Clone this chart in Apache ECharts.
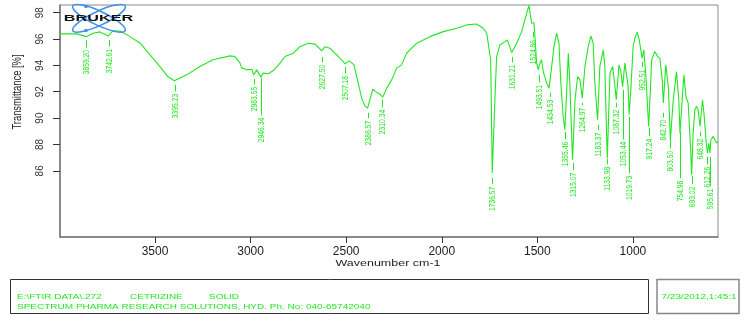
<!DOCTYPE html>
<html><head><meta charset="utf-8">
<script src="https://cdn.jsdelivr.net/npm/echarts@6/dist/echarts.min.js"></script>
<style>html,body{margin:0;padding:0;background:#fff}#c{width:747px;height:322px}</style>
</head><body><div id="c"></div>
<script>
const wavenumber = [3997,3908,3860,3824,3788,3744,3720,3683,3631,3579,
 3526,3474,3432,3399,3334,3265,3197,3108,3082,3056,
 3047,3020,2994,2984,2968,2946,2934,2907,2881,2846,
 2820,2777,2742,2698,2663,2641,2628,2611,2585,2550,
 2515,2506,2484,2459,2437,2419,2402,2388,2376,2361,
 2346,2332,2320,2309,2288,2262,2236,2210,2184,2131,
 2062,1992,1922,1870,1818,1783,1765,1757,1744,1736,
 1722,1713,1696,1670,1657,1634,1608,1582,1556,1544,
 1530,1518,1513,1504,1495,1490,1478,1469,1451,1439,
 1425,1413,1399,1387,1377,1365,1356,1347,1338,1330,
 1316,1303,1289,1277,1265,1251,1234,1220,1208,1199,
 1185,1173,1155,1147,1138,1134,1120,1106,1094,1087,
 1073,1063,1054,1042,1033,1025,1020,1011,999,990,
 978,967,952,943,932,918,911,902,885,871,
 859,847,841,828,815,804,789,772,760,754,
 740,733,723,711,698,693,685,676,667,659,
 649,636,627,615,610,603,597,592,580,571,
 562,555];
const transmittance = [96.39,96.39,96.18,96.44,96.54,96.23,96.61,96.61,96.18,95.70,
 94.80,93.91,93.13,92.83,93.28,93.91,94.42,94.72,94.67,94.19,
 93.81,93.66,93.71,93.28,93.66,93.11,93.41,93.36,93.61,94.17,
 94.67,94.92,95.42,95.68,95.61,95.30,95.10,95.42,95.30,94.80,
 94.29,94.11,94.34,94.04,92.65,91.51,90.93,90.76,91.39,92.20,
 92.01,91.89,91.77,91.59,92.27,92.90,93.79,94.04,94.92,95.68,
 96.18,96.56,96.82,97.07,97.14,96.82,96.44,96.31,94.42,85.83,
 91.39,94.67,95.55,95.80,95.93,94.97,95.68,96.56,97.95,98.55,
 97.20,97.24,96.31,94.17,93.66,94.04,94.42,93.53,92.65,92.27,
 93.91,95.42,96.44,95.68,92.65,90.12,89.11,91.89,94.92,92.65,
 86.84,91.39,93.15,92.90,91.51,93.91,95.42,96.23,95.68,92.65,
 89.87,93.91,95.17,93.91,88.86,86.97,93.41,93.91,92.39,91.39,
 94.04,93.53,92.39,94.17,94.29,92.39,90.25,92.14,95.42,96.06,
 96.52,95.93,94.55,95.17,93.15,89.36,91.39,94.42,95.05,94.67,
 94.55,92.90,91.14,94.04,92.39,88.36,91.39,93.53,91.39,88.86,
 91.89,93.28,91.64,91.14,87.60,85.70,88.86,90.63,90.88,90.63,
 89.36,91.39,90.12,87.85,87.35,88.11,87.35,88.36,88.61,88.73,
 88.11,88.23];
const peakLabels = ['3859.20','3742.61','3395.23','2983.55','2946.34','2627.50','2507.18','2386.57','2310.34','1736.57','1631.21','1524.86','1493.51','1434.53','1355.46','1315.07','1264.97','1183.37','1133.98','1087.32','1053.44','1019.73','952.51','917.24','842.70','803.50','754.98','693.02','648.32','612.26','595.61'];
const peakTickTop = [95.93,95.93,92.52,92.97,93.05,94.64,93.89,90.40,91.39,85.48,94.64,96.54,93.28,91.92,88.96,86.61,91.16,89.49,86.92,91.16,92.14,90.10,94.27,89.27,90.40,88.36,88.96,85.63,88.96,87.07,87.07];
const peakTextTop = [95.17,95.25,91.84,92.37,90.02,94.04,93.20,89.80,90.63,84.80,94.04,95.93,92.52,91.39,88.20,85.86,90.78,88.89,86.31,90.63,88.20,85.63,93.66,88.43,89.87,87.52,85.25,84.80,88.43,86.31,84.65];
const xTicks = [1000,1500,2000,2500,3000,3500];
const yTicks = [86,88,90,92,94,96,98];

const green = '#22e622';
const chart = echarts.init(document.getElementById('c'), null, {renderer:'canvas'});
const option = {
  animation:false,
  grid:{left:60,right:29,top:5,bottom:85,show:true,borderColor:'#8a8a8a',borderWidth:1},
  xAxis:{type:'value',inverse:true,min:555,max:3997,
    axisLine:{show:true,lineStyle:{color:'#777',width:1.5}},
    axisTick:{show:true,length:6,customValues:xTicks,lineStyle:{color:'#333'}},
    axisLabel:{customValues:xTicks,fontSize:12,color:'#222',margin:9,fontFamily:'Liberation Sans',
      formatter:v=>String(v)},
    splitLine:{show:false}},
  yAxis:{type:'value',min:80.98,max:98.58,
    axisLine:{show:true,lineStyle:{color:'#777',width:1.5}},
    axisTick:{show:true,length:7,customValues:yTicks,lineStyle:{color:'#333'}},
    axisLabel:{customValues:yTicks,rotate:90,fontSize:10,margin:15,color:'#333',fontFamily:'Liberation Sans Narrow, Liberation Sans',
      formatter:v=>String(v)},
    splitLine:{show:false}},
  series:[
    {type:'line',data:wavenumber.map((w,i)=>[w,transmittance[i]]),showSymbol:false,symbol:'none',
     lineStyle:{color:green,width:1.1},clip:true,z:3},
    {type:'custom',clip:false,z:4,
     data:peakLabels.map((s,i)=>[parseFloat(s),peakTickTop[i],peakTextTop[i]]),
     renderItem:function(params,api){
       const p1 = api.coord([api.value(0),api.value(1)]);
       const p2 = api.coord([api.value(0),api.value(2)]);
       const x = Math.round(p1[0])+0.5;
       return {type:'group',children:[
         {type:'line',shape:{x1:x,y1:p1[1],x2:x,y2:p2[1]-2.5},style:{stroke:green,lineWidth:1}},
         {type:'text',x:x,y:p2[1],rotation:Math.PI/2,scaleX:0.75,
          style:{text:peakLabels[params.dataIndex],align:'right',verticalAlign:'middle',fill:green,
                 font:'9px "Liberation Sans", sans-serif'}}
       ]};
     }}
  ],
  graphic:[
    {type:'ellipse',x:99,y:18.3,rotation:0.44,z:100,shape:{cx:0,cy:0,rx:29,ry:7},style:{fill:'none',stroke:'#3f8fe8',lineWidth:1.5}},
    {type:'ellipse',x:99,y:18.3,rotation:-0.44,z:100,shape:{cx:0,cy:0,rx:29,ry:7},style:{fill:'none',stroke:'#3f8fe8',lineWidth:1.5}},
    {type:'circle',z:100,shape:{cx:86,cy:6.5,r:1.8},style:{fill:'#3f8fe8'}},
    {type:'circle',z:100,shape:{cx:86,cy:30.5,r:1.8},style:{fill:'#3f8fe8'}},
    {type:'text',x:98.5,y:18.3,z:101,scaleX:1.35,scaleY:0.75,style:{text:'BRUKER',align:'center',verticalAlign:'middle',fill:'#111',font:'bold 12px "Liberation Sans", sans-serif'}},
    {type:'text',x:17,y:92,rotation:Math.PI/2,scaleX:0.72,style:{text:'Transmittance [%]',align:'center',verticalAlign:'middle',fill:'#222',font:'13px "Liberation Sans", sans-serif'}},
    {type:'text',x:388,y:263.5,scaleY:0.78,style:{text:'Wavenumber cm-1',align:'center',verticalAlign:'middle',fill:'#222',font:'12.5px "Liberation Sans", sans-serif'}},
    {type:'rect',shape:{x:10.5,y:279.5,width:638,height:34},style:{fill:'none',stroke:'#333',lineWidth:1}},
    {type:'rect',shape:{x:657,y:279.5,width:82,height:34},style:{fill:'none',stroke:'#888',lineWidth:1.5}},
    {type:'text',x:17,y:297,scaleY:0.7,style:{text:'E:\\FTIR DATA\\.272',verticalAlign:'middle',fill:green,font:'10px "Liberation Sans", sans-serif'}},
    {type:'text',x:130,y:297,scaleY:0.7,style:{text:'CETRIZINE',verticalAlign:'middle',fill:green,font:'10px "Liberation Sans", sans-serif'}},
    {type:'text',x:209,y:297,scaleY:0.7,style:{text:'SOLID',verticalAlign:'middle',fill:green,font:'10px "Liberation Sans", sans-serif'}},
    {type:'text',x:17,y:307.5,scaleY:0.7,style:{text:'SPECTRUM PHARMA RESEARCH SOLUTIONS, HYD. Ph. No: 040-65742040',verticalAlign:'middle',fill:green,font:'10px "Liberation Sans", sans-serif'}},
    {type:'text',x:661.5,y:297,scaleY:0.7,style:{text:'7/23/2012,1:45:11',verticalAlign:'middle',fill:green,width:77,overflow:'truncate',ellipsis:'',font:'10px "Liberation Sans", sans-serif'}}
  ]
};
chart.setOption(option);
</script></body></html>
